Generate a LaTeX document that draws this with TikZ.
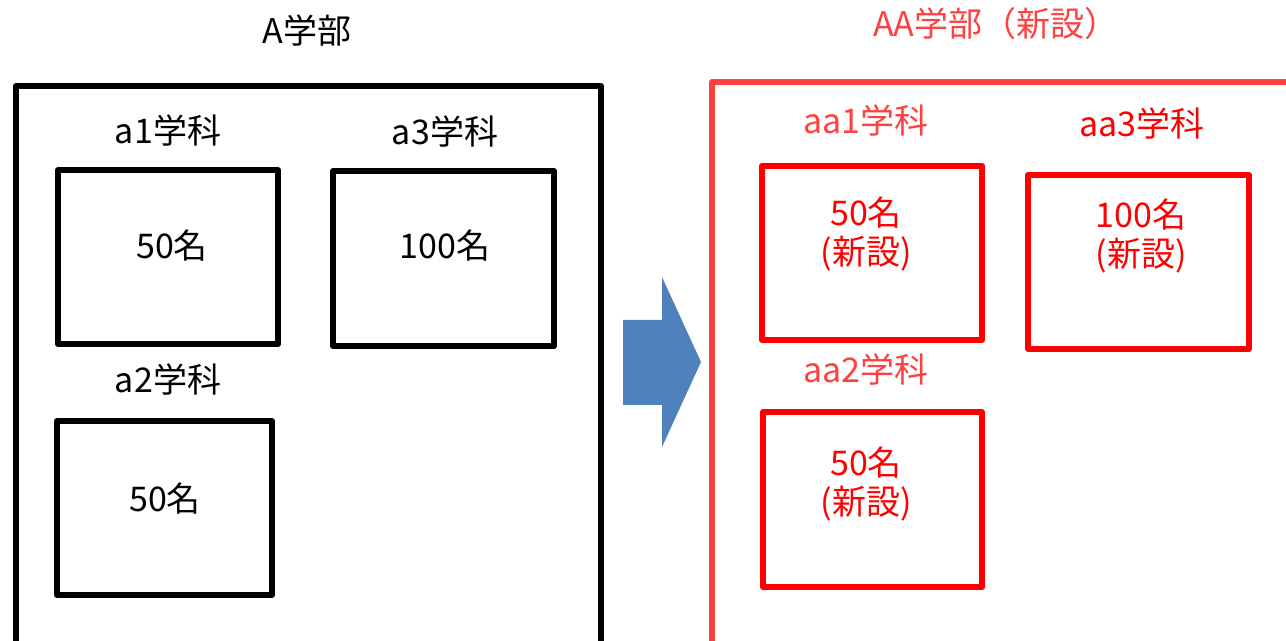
\documentclass[tikz,border=0pt]{standalone}
\usepackage{fontspec}
\setmainfont{Noto Sans CJK JP}
\definecolor{lred}{RGB}{255,64,64}
\definecolor{pred}{RGB}{255,0,0}
\definecolor{arrblue}{RGB}{79,129,189}
\tikzset{
  lbl/.style={inner sep=0pt, font=\fontsize{17pt}{19.5pt}\selectfont},
  dept/.style={draw, line width=3pt, line join=round, inner sep=0pt},
  fac/.style={draw, line width=2.8pt, line join=round},
}
\begin{document}
\begin{tikzpicture}[x=0.5pt, y=-0.5pt]
\useasboundingbox (0,0) rectangle (1286,641);
\clip (0,0) rectangle (1286,641);
\fill[white] (0,0) rectangle (1286,641);
% faculty frames
\draw[fac, black, line width=3pt] (16,660) -- (16,86) coordinate (Atl) -- (601,86) -- (601,660);
\draw[fac, lred] (712,660) -- (712,82) coordinate (AAtl) -- (1300,82);
% titles
\node[lbl] (tA) at (307,31) {A学部};
\node[lbl, text=lred] (tAA) at (996,24) {AA学部（新設）};
% left departments
\node[lbl] (la1) at (168,131) {a1学科};
\node[lbl] (la3) at (445,132) {a3学科};
\node[lbl] (la2) at (168,380) {a2学科};
\node[dept, minimum width=110pt, minimum height=87pt] (a1) at (168,257) {};
\node[dept, minimum width=110.5pt, minimum height=87.5pt] (a3) at (443.5,258.5) {};
\node[dept, minimum width=107.5pt, minimum height=87pt] (a2) at (164.5,508) {};
\node[lbl] (na1) at (172,246) {50名};
\node[lbl] (na3) at (445,246) {100名};
\node[lbl] (na2) at (165,499) {50名};
% arrow
\fill[arrblue] (623,320) coordinate (arrA) -- (662,320) -- (662,277) -- (701,362) coordinate (arrTip) -- (662,447) -- (662,405) -- (623,405) -- cycle;
% right departments
\node[lbl, text=lred] (laa1) at (866,121) {aa1学科};
\node[lbl, text=pred] (laa3) at (1142,124) {aa3学科};
\node[lbl, text=lred] (laa2) at (866,370) {aa2学科};
\node[dept, draw=pred, minimum width=110pt, minimum height=87pt] (aa1) at (872,253) {};
\node[dept, draw=pred, minimum width=110.5pt, minimum height=87pt] (aa3) at (1138.5,262) {};
\node[dept, draw=pred, minimum width=109.5pt, minimum height=87.5pt] (aa2) at (872.5,499.5) {};
\node[lbl, text=pred, align=center] (naa1) at (866,234) {50名\\(新設)};
\node[lbl, text=pred, align=center] (naa3) at (1141,236) {100名\\(新設)};
\node[lbl, text=pred, align=center] (naa2) at (866,484) {50名\\(新設)};
\end{tikzpicture}
\end{document}
